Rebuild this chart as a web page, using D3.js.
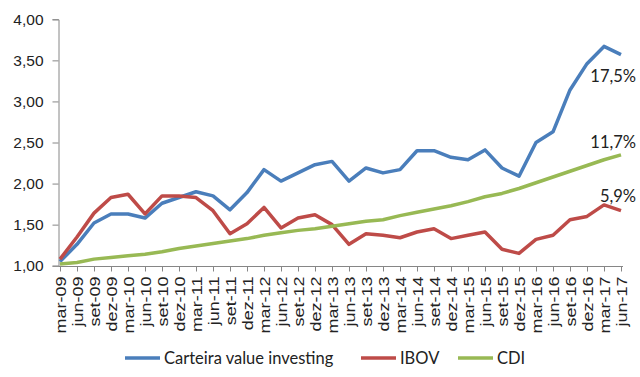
<!DOCTYPE html>
<html>
<head>
<meta charset="utf-8">
<script src="https://cdn.jsdelivr.net/npm/d3@7"></script>
<style>
  body { margin: 0; background: #fff; }
  svg { font-family: Lato, "Open Sans", sans-serif; }
</style>
</head>
<body>
<svg id="canvas" width="640" height="377"></svg>
<script>
const categories = ['mar-09','jun-09','set-09','dez-09','mar-10','jun-10','set-10','dez-10',
  'mar-11','jun-11','set-11','dez-11','mar-12','jun-12','set-12','dez-12',
  'mar-13','jun-13','set-13','dez-13','mar-14','jun-14','set-14','dez-14',
  'mar-15','jun-15','set-15','dez-15','mar-16','jun-16','set-16','dez-16',
  'mar-17','jun-17'];

const carteira = [1.05,1.26,1.52,1.63,1.63,1.58,1.76,1.83,1.90,1.85,1.68,1.89,2.17,2.03,2.13,2.23,
  2.27,2.03,2.19,2.13,2.17,2.40,2.40,2.32,2.29,2.41,2.19,2.09,2.50,2.63,3.14,3.46,3.67,3.57];
const ibov = [1.08,1.35,1.64,1.83,1.87,1.63,1.85,1.85,1.83,1.67,1.39,1.51,1.71,1.46,1.58,1.62,
  1.50,1.26,1.39,1.37,1.34,1.41,1.45,1.33,1.37,1.41,1.20,1.15,1.32,1.37,1.56,1.60,1.74,1.67];
const cdi = [1.02,1.04,1.08,1.10,1.12,1.14,1.17,1.21,1.24,1.27,1.30,1.33,1.37,1.40,1.43,1.45,
  1.48,1.51,1.54,1.56,1.61,1.65,1.69,1.73,1.78,1.84,1.88,1.94,2.01,2.08,2.15,2.22,2.29,2.35];

const yTicks = [1, 1.5, 2, 2.5, 3, 3.5, 4];
const seriesNames = ['Carteira value investing', 'IBOV', 'CDI'];
const endLabels = ['17,5%', '5,9%', '11,7%'];
const colors = ['#4a7ebb', '#be4b48', '#98b954'];

const svg = d3.select('#canvas');

const x = d3.scalePoint().domain(categories).range([60, 621]);
const y = d3.scaleLinear().domain([1, 4]).range([265.7, 19.3]);
const fmt = (v) => v.toFixed(2).replace('.', ',');

// y axis
const yAxis = svg.append('g')
  .attr('transform', 'translate(58.5,0)')
  .call(d3.axisLeft(y).tickValues(yTicks).tickFormat(fmt).tickSizeOuter(0).tickSize(6).tickPadding(9));
yAxis.select('.domain').attr('stroke', '#868686');
yAxis.selectAll('.tick line').attr('stroke', '#868686');
yAxis.selectAll('.tick text').attr('fill', '#222').style('font-size', '15.5px');

// x axis - labels stretched a bit along their length to mimic the narrow original font
const stretch = 1.2;
const xAxis = svg.append('g')
  .attr('transform', 'translate(0,266.5)')
  .call(d3.axisBottom(x).tickSize(5).tickSizeOuter(0));
xAxis.select('.domain').attr('stroke', '#868686').attr('d', 'M58.5,0H623');
xAxis.selectAll('.tick line').attr('stroke', '#868686');
xAxis.selectAll('.tick text')
  .attr('fill', '#222')
  .style('font-size', '15px')
  .attr('text-anchor', 'end')
  .attr('transform', `rotate(-90) scale(${stretch},1)`)
  .attr('x', -10 / stretch)
  .attr('y', 0)
  .attr('dy', '0.35em');

// lines
const allSeries = [carteira, ibov, cdi];
const line = d3.line().x((d, i) => x(categories[i])).y((d) => y(d));

svg.selectAll('path.series')
  .data(allSeries)
  .enter()
  .append('path')
  .attr('class', 'series')
  .attr('d', line)
  .attr('fill', 'none')
  .attr('stroke', (d, i) => colors[i])
  .attr('stroke-width', 3.5)
  .attr('stroke-linejoin', 'round');

// end labels
const labelOffsets = [22, -14, -13];
svg.selectAll('text.endlabel')
  .data(allSeries)
  .enter()
  .append('text')
  .attr('class', 'endlabel')
  .attr('x', x(categories[categories.length - 1]) + 15)
  .attr('y', (d, i) => y(d[d.length - 1]) + labelOffsets[i])
  .attr('dy', '0.35em')
  .attr('text-anchor', 'end')
  .attr('fill', '#222')
  .style('font-size', '16.5px')
  .text((d, i) => endLabels[i]);

// legend
const legendX = [125, 361, 458];
const legend = svg.selectAll('g.legend')
  .data(seriesNames)
  .enter()
  .append('g')
  .attr('class', 'legend')
  .attr('transform', (d, i) => `translate(${legendX[i]},358)`);
legend.append('line')
  .attr('x1', 0).attr('x2', 35)
  .attr('stroke', (d, i) => colors[i])
  .attr('stroke-width', 3.5);
legend.append('text')
  .attr('x', 39)
  .attr('dy', '0.35em')
  .attr('fill', '#222')
  .style('font-size', '16.5px')
  .text((d) => d);
</script>
</body>
</html>
